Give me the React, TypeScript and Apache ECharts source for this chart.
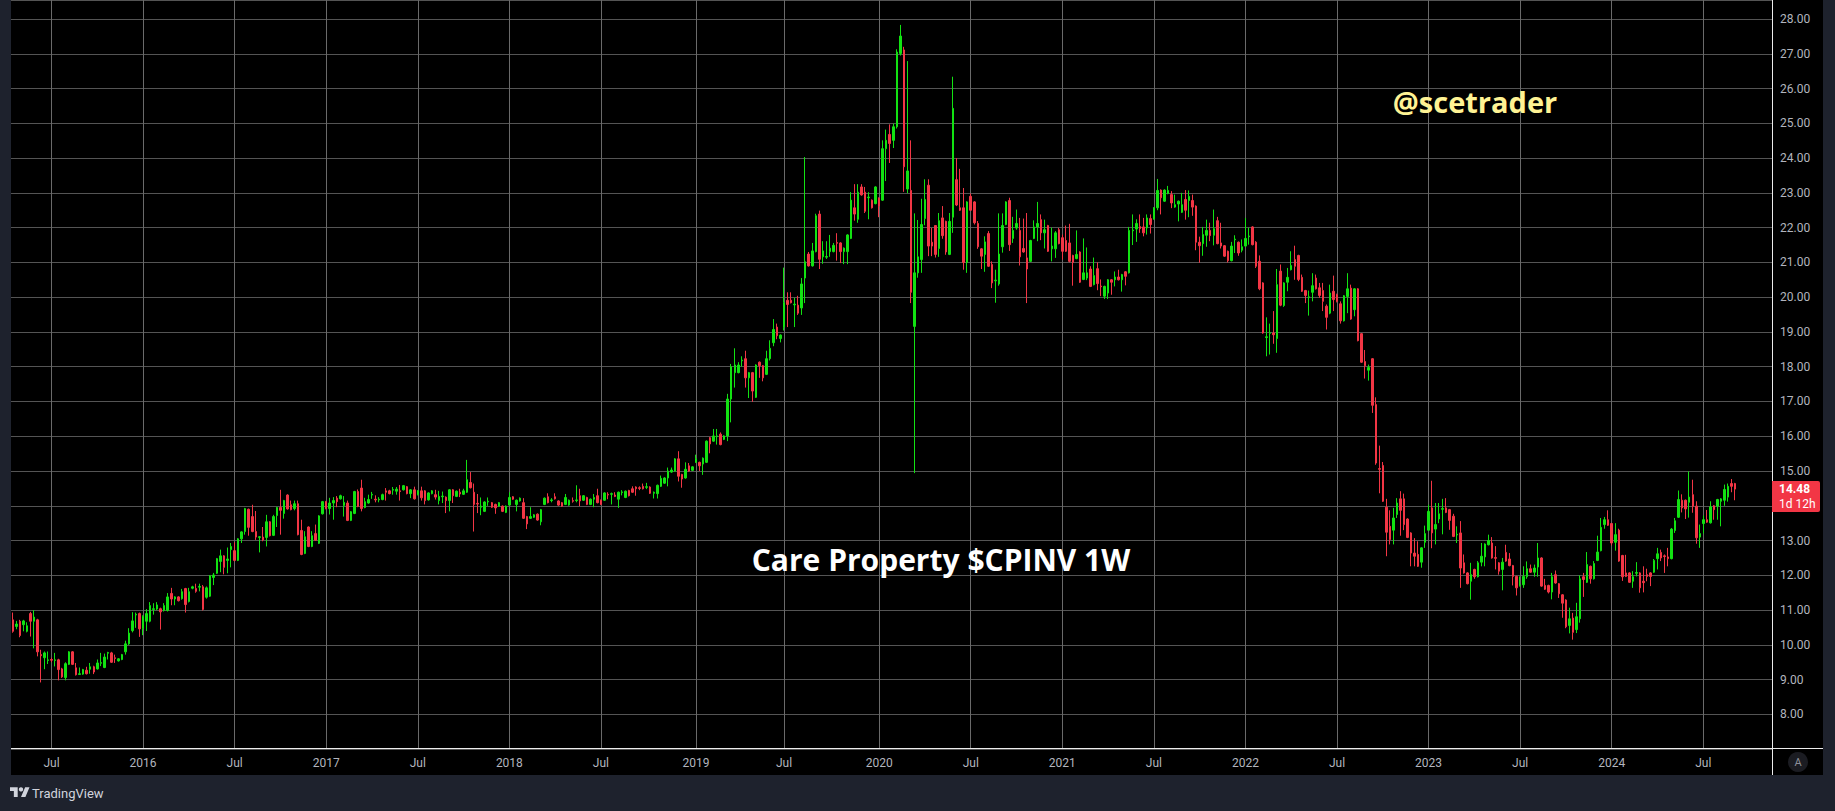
import React, { useEffect, useRef } from 'react';
import * as echarts from 'echarts';

// Weekly candles, each row [open, close, low, high]
const ohlc2015 = [
  [10.72,10.39,10.35,10.93],[10.53,10.6,10.45,10.69],[10.68,10.27,10.22,10.72],[10.58,10.69,10.39,10.72],[10.39,10.55,10.36,10.65],
  [10.9,10.68,10.24,10.95],[10.68,10.8,9.9,11.0],[10.72,9.8,9.67,10.75],[9.72,9.69,8.92,9.86],[9.63,9.77,9.3,9.81],
  [9.55,9.57,9.45,9.81],[9.58,9.56,9.5,9.63],[9.55,9.57,9.38,9.77],[9.57,9.29,8.98,9.6],[9.31,9.08,9.05,9.34],
  [9.06,9.46,8.98,9.5],[9.44,9.8,9.42,9.82],[9.8,9.44,9.42,9.82],[9.34,9.14,9.12,9.48],[9.15,9.17,9.14,9.35],
  [9.16,9.29,9.14,9.31],[9.27,9.17,9.15,9.37],[9.3,9.37,9.17,9.48],[9.37,9.22,9.16,9.4],[9.31,9.48,9.29,9.58],
  [9.47,9.49,9.39,9.77],[9.35,9.65,9.33,9.75],[9.76,9.78,9.58,9.8],[9.77,9.5,9.48,9.8],[9.63,9.61,9.48,9.72],
  [9.54,9.6,9.52,9.62],[9.58,9.72,9.56,9.74],[9.8,10.03,9.72,10.12],[10.03,10.34,10.0,10.48],[10.41,10.69,10.36,10.94],
  [10.86,10.88,10.49,10.93],[10.9,10.46,10.23,10.93],
];
const ohlc2016 = [
  [10.47,10.82,10.28,10.85],[10.68,10.9,10.4,11.03],[10.68,11.13,10.65,11.23],[11.02,11.04,10.87,11.2],[11.03,11.15,11.0,11.23],
  [11.04,10.95,10.44,11.07],[10.99,11.13,10.96,11.2],[10.99,11.38,10.96,11.49],[11.48,11.32,11.14,11.64],[11.32,11.38,11.14,11.4],
  [11.38,11.27,11.25,11.4],[11.33,11.53,11.3,11.61],[11.62,11.16,10.93,11.64],[11.25,11.53,11.22,11.64],[11.63,11.67,11.6,11.7],
  [11.62,11.54,11.5,11.76],[11.66,11.68,11.54,11.76],[11.67,11.02,10.99,11.72],[11.37,11.64,11.33,11.68],[11.4,11.99,11.38,12.01],
  [11.94,12.01,11.72,12.07],[12.06,12.48,12.04,12.5],[12.4,12.56,12.09,12.74],[12.56,12.23,12.03,12.58],[12.43,12.47,12.06,12.8],
  [12.74,12.83,12.23,12.93],[12.71,12.43,12.4,12.95],[12.43,13.05,12.41,13.07],[13.05,13.25,12.93,13.27],[13.26,13.92,13.17,13.94],
  [13.9,13.38,13.14,13.92],[13.69,13.26,13.24,14.03],[13.26,13.1,13.02,13.85],[13.09,13.11,12.66,13.13],[13.1,13.02,12.98,13.39],
  [13.09,13.54,12.83,13.74],[13.54,13.14,13.12,13.56],[13.15,13.69,13.13,13.74],[13.72,13.95,13.39,13.97],[13.95,13.87,13.17,14.46],
  [13.78,14.15,13.63,14.17],[14.31,13.91,13.89,14.33],[14.03,13.89,13.87,14.15],[13.92,14.06,13.87,14.15],[14.06,13.17,13.15,14.15],
  [13.29,12.6,12.58,13.6],[12.63,13.11,12.61,13.27],[13.39,12.83,12.81,13.41],[12.83,13.14,12.81,13.27],[13.2,13.01,12.99,13.46],
  [12.92,13.71,12.9,13.73],[13.77,14.12,13.75,14.14],
];
const ohlc2017 = [
  [14.12,13.92,13.9,14.14],[13.92,14.08,13.75,14.23],[14.08,14.15,13.6,14.25],[14.22,14.12,13.96,14.28],[14.2,14.29,14.18,14.32],
  [14.01,14.1,13.69,14.28],[14.08,13.58,13.56,14.15],[13.58,13.83,13.56,13.85],[13.78,14.41,13.76,14.43],[14.41,13.98,13.96,14.47],
  [14.51,13.92,13.84,14.75],[13.95,14.12,13.93,14.23],[14.08,14.18,14.06,14.32],[14.31,14.33,14.2,14.4],[14.19,14.17,14.1,14.3],
  [14.17,14.19,14.1,14.25],[14.18,14.32,14.16,14.35],[14.43,14.39,14.15,14.51],[14.43,14.35,14.33,14.46],[14.45,14.47,14.32,14.54],
  [14.42,14.48,14.32,14.54],[14.43,14.41,14.15,14.6],[14.46,14.58,14.44,14.6],[14.55,14.35,14.33,14.57],[14.35,14.46,14.22,14.48],
  [14.46,14.2,14.18,14.55],[14.32,14.43,14.3,14.45],[14.43,14.23,14.15,14.55],[14.43,14.15,14.04,14.45],[14.17,14.37,14.15,14.39],
  [14.35,14.43,14.33,14.45],[14.32,14.25,14.18,14.46],[14.15,14.27,14.04,14.43],[14.26,14.28,14.08,14.41],[14.25,14.15,13.79,14.27],
  [14.15,14.46,13.84,14.48],[14.46,14.29,14.08,14.48],[14.27,14.42,14.25,14.44],[14.39,14.34,14.25,14.49],[14.33,14.43,14.31,14.49],
  [14.39,14.75,14.37,15.32],[14.67,14.52,14.5,14.97],[14.39,14.04,13.26,14.64],[14.07,14.05,13.79,14.34],[13.96,13.99,13.73,14.24],
  [13.84,14.11,13.82,14.13],[14.11,14.13,14.0,14.24],[14.09,13.96,13.94,14.11],[14.04,13.94,13.77,14.06],[13.99,14.09,13.97,14.11],
  [13.99,13.84,13.82,14.01],[13.81,13.99,13.79,14.01],
];
const ohlc2018 = [
  [14.02,14.24,14.0,14.39],[14.26,14.19,14.17,14.28],[14.04,14.16,13.84,14.18],[14.14,14.22,14.12,14.24],[14.09,13.64,13.62,14.22],
  [13.69,13.48,13.33,13.71],[13.64,13.69,13.62,13.96],[13.67,13.74,13.65,13.76],[13.76,13.59,13.57,13.78],[13.54,13.89,13.44,13.91],
  [14.04,14.22,14.02,14.24],[14.26,14.09,14.07,14.36],[14.15,14.17,14.1,14.22],[14.26,14.2,14.18,14.36],[14.14,14.02,14.0,14.16],
  [14.09,13.99,13.97,14.11],[14.04,14.24,14.02,14.34],[14.02,14.16,14.0,14.18],[14.15,14.13,14.09,14.24],[14.15,14.17,14.1,14.59],
  [14.29,14.14,13.99,14.49],[14.16,14.29,14.14,14.31],[14.24,14.04,14.02,14.26],[14.04,14.19,14.02,14.21],[14.19,14.24,13.96,14.34],
  [14.29,14.09,14.07,14.49],[14.16,14.04,14.02,14.18],[14.16,14.37,14.14,14.39],[14.33,14.31,14.19,14.39],[14.33,14.35,14.04,14.38],
  [14.31,14.27,14.25,14.39],[14.19,14.39,13.94,14.41],[14.38,14.4,14.3,14.45],[14.24,14.42,14.22,14.44],[14.44,14.29,14.27,14.46],
  [14.49,14.39,14.37,14.56],[14.54,14.49,14.29,14.56],[14.52,14.5,14.45,14.56],[14.56,14.49,14.47,14.64],[14.53,14.55,14.48,14.66],
  [14.54,14.36,14.34,14.56],[14.36,14.39,14.21,14.41],[14.35,14.59,14.21,14.61],[14.56,14.79,14.54,14.87],[14.65,14.8,14.63,14.82],
  [14.8,15.0,14.56,15.1],[14.97,15.03,14.95,15.1],[15.0,15.35,14.98,15.37],[15.35,14.85,14.7,15.57],[14.9,14.77,14.52,14.92],
  [14.8,15.05,14.78,15.25],[15.15,15.0,14.98,15.23],[15.02,15.12,15.0,15.14],
];
const ohlc2019 = [
  [15.25,15.35,15.23,15.47],[15.25,15.15,15.0,15.27],[15.2,15.37,14.89,15.39],[15.25,15.86,15.23,15.88],[15.96,15.78,15.51,15.98],
  [15.86,16.01,15.84,16.21],[15.99,16.01,15.76,16.21],[16.06,15.76,15.74,16.11],[15.91,16.01,15.89,16.03],[16.01,17.07,15.86,17.22],
  [17.07,18.0,16.4,18.08],[17.83,18.05,17.4,18.53],[17.83,18.05,17.81,18.13],[18.17,18.19,18.0,18.3],[18.23,17.68,17.4,18.46],
  [17.68,17.83,17.1,17.85],[17.83,17.3,16.99,17.85],[17.12,18.05,17.1,18.07],[18.13,18.03,17.68,18.15],[18.03,17.68,17.58,18.05],
  [17.78,18.23,17.76,18.46],[18.23,18.53,18.18,18.76],[18.69,19.07,18.59,19.37],[19.14,18.89,18.79,19.24],[18.81,18.91,18.7,18.93],
  [19.14,19.84,19.04,20.85],[19.91,19.79,19.14,20.14],[19.91,19.84,19.82,20.14],[19.78,19.8,19.14,19.98],[19.77,19.54,19.49,20.04],
  [19.69,20.38,19.49,20.55],[20.55,21.02,19.83,24.03],[21.24,20.9,20.88,21.3],[20.9,21.33,20.88,21.56],[21.31,22.34,21.29,22.4],
  [22.39,21.09,20.81,22.49],[21.16,21.33,20.96,21.61],[21.15,21.17,21.1,21.61],[21.31,21.41,21.16,21.79],[21.31,21.49,21.29,21.56],
  [21.57,21.55,21.05,21.84],[21.56,21.31,20.98,21.58],[21.31,21.41,20.95,21.43],[21.31,21.79,20.95,21.81],[21.69,22.79,21.67,23.02],
  [22.57,22.39,22.2,23.25],[22.24,23.02,22.14,23.25],[23.17,22.94,22.92,23.25],[23.02,22.47,22.42,23.17],[22.86,22.88,22.24,23.02],
  [22.79,22.57,22.55,22.81],[22.69,23.17,22.67,23.19],
];
const ohlc2020 = [
  [22.85,22.62,22.3,22.87],[22.79,24.27,22.77,24.51],[24.27,24.51,23.34,24.82],[24.68,24.42,23.86,24.97],[24.51,24.9,24.29,24.99],
  [24.9,27.05,24.85,27.13],[27.01,27.51,26.95,27.83],[27.11,23.75,23.03,27.2],[23.11,23.63,22.99,26.79],[23.07,20.14,19.83,24.51],
  [19.16,20.7,14.94,22.41],[20.7,21.16,20.56,22.22],[21.08,22.09,20.7,22.83],[22.26,22.81,22.07,23.39],[23.22,21.47,21.18,23.39],
  [21.58,21.47,21.18,21.99],[22.06,21.23,21.14,22.06],[21.4,22.2,21.16,22.42],[22.28,21.77,21.68,22.62],[22.18,21.3,21.22,22.2],
  [21.23,22.18,21.21,22.42],[22.3,25.43,21.85,26.34],[23.38,22.65,22.62,24.0],[22.57,22.5,22.48,23.69],[22.57,21.0,20.79,23.14],
  [21.0,22.74,20.7,22.76],[22.9,22.5,22.48,22.98],[22.74,22.14,22.09,22.76],[22.12,21.45,21.39,22.19],[21.39,21.18,20.81,21.41],
  [21.23,21.59,20.73,21.75],[21.83,20.89,20.87,21.9],[20.94,20.41,20.26,21.03],[20.47,20.49,19.84,20.79],[20.38,21.24,20.33,22.41],
  [21.45,22.06,21.28,22.41],[22.09,22.74,22.07,22.76],[22.78,21.51,21.33,22.86],[21.69,21.92,21.56,22.31],[21.99,22.12,21.94,22.52],
  [21.92,21.16,20.91,22.28],[21.4,21.3,21.28,22.26],[21.13,20.81,19.83,22.42],[21.03,21.63,21.01,21.65],[21.69,22.02,21.67,22.21],
  [22.02,22.12,21.61,22.74],[22.23,21.85,21.64,22.38],[21.85,21.94,21.4,22.23],[22.06,21.32,21.3,22.08],[21.39,21.47,21.03,22.0],
  [21.39,21.85,21.13,21.9],[21.94,21.54,21.52,21.99],
];
const ohlc2021 = [
  [21.71,21.32,21.08,21.8],[21.63,21.32,21.3,22.06],[21.56,21.03,21.0,22.11],[21.2,21.0,20.33,21.22],[21.11,21.23,21.09,21.92],
  [21.3,20.43,20.41,21.32],[20.51,20.7,20.49,21.69],[20.55,20.7,20.49,21.43],[20.81,20.31,20.29,20.89],[20.36,20.62,20.34,21.14],
  [20.82,20.39,20.2,21.0],[20.32,20.3,20.03,20.51],[20.03,20.31,19.95,20.33],[20.12,20.5,19.95,20.52],[20.5,20.43,20.07,20.52],
  [20.5,20.58,20.31,20.74],[20.58,20.5,20.48,20.79],[20.5,20.65,20.16,20.67],[20.73,20.6,20.34,20.75],[20.7,21.92,20.68,22.02],
  [21.91,21.93,21.5,22.38],[21.96,22.12,21.59,22.24],[22.03,21.97,21.85,22.38],[22.02,21.85,21.75,22.28],[21.99,22.28,21.8,22.38],
  [22.26,22.09,21.83,22.38],[22.25,22.57,22.23,22.59],[22.57,23.07,22.5,23.4],[23.08,22.86,22.38,23.1],[22.76,23.08,22.74,23.1],
  [22.98,23.07,22.96,23.2],[22.95,22.71,22.56,23.05],[22.59,22.66,22.57,22.95],[22.68,22.76,22.18,22.78],[22.44,22.66,22.42,23.0],
  [22.81,22.5,22.23,23.08],[22.78,22.9,22.3,23.07],[22.78,22.59,22.34,22.95],[22.62,21.58,21.35,22.64],[21.58,21.48,20.99,21.74],
  [21.54,21.8,21.19,22.02],[21.78,21.92,21.45,22.23],[21.92,21.77,21.61,22.14],[21.78,21.97,21.49,22.52],[22.2,21.54,21.52,22.31],
  [21.56,21.47,21.4,22.14],[21.48,21.18,21.16,21.5],[21.32,21.05,21.0,21.34],[21.05,21.47,21.03,21.59],[21.65,21.67,21.27,21.78],
  [21.58,21.27,21.19,21.6],[21.35,21.45,21.29,21.66],
];
const ohlc2022 = [
  [21.47,21.69,21.45,22.28],[21.74,21.76,21.51,22.0],[22.02,21.51,21.49,22.04],[21.58,20.89,20.84,21.61],[21.03,20.24,20.2,21.2],
  [20.41,18.97,18.95,20.43],[18.84,18.86,18.3,19.42],[18.96,18.98,18.35,19.24],[18.97,18.92,18.66,19.6],[18.81,20.36,18.4,20.81],
  [20.75,19.77,19.74,20.94],[19.76,20.41,19.72,20.43],[20.43,20.57,20.17,20.84],[20.79,20.91,20.77,21.32],[21.08,20.89,20.5,21.48],
  [21.2,20.51,20.46,21.22],[20.57,20.17,20.15,20.65],[20.19,20.05,19.83,20.21],[19.99,20.01,19.47,20.19],[20.14,20.33,19.88,20.69],
  [20.55,20.24,20.22,20.65],[20.27,20.05,19.98,20.41],[20.19,19.88,19.6,20.41],[19.74,19.42,19.07,19.79],[19.54,20.12,19.51,20.36],
  [20.17,19.93,19.6,20.62],[20.07,19.88,19.85,20.1],[19.81,19.32,19.24,19.88],[19.32,20.04,19.3,20.06],[20.02,20.24,19.54,20.69],
  [20.26,19.37,19.35,20.36],[19.64,20.24,19.45,20.26],[20.24,18.75,18.73,20.26],[18.95,18.13,18.11,18.97],[18.15,18.03,17.66,18.48],
  [17.9,17.98,17.6,18.06],[18.23,16.89,16.67,18.25],[16.91,15.23,15.18,17.12],[15.07,15.05,14.36,15.73],[15.16,14.13,14.11,15.26],
  [13.96,13.24,12.55,14.2],[13.41,13.03,12.89,13.87],[13.3,13.65,12.89,13.94],[13.75,14.08,13.65,14.22],[14.2,13.87,13.14,14.42],
  [14.2,13.46,13.3,14.35],[13.62,13.09,13.07,13.64],[13.22,12.64,12.26,13.24],[12.64,12.55,12.26,13.07],[12.6,12.26,12.24,12.98],
  [12.38,12.79,12.22,12.81],[12.95,13.2,12.79,13.43],
];
const ohlc2023 = [
  [13.3,13.84,13.28,14.03],[13.94,13.22,12.78,14.72],[13.33,13.46,12.89,14.08],[13.62,13.77,13.5,14.08],[13.9,13.92,13.18,14.2],
  [13.94,13.81,13.79,14.22],[13.89,13.58,13.31,13.91],[13.7,13.12,13.1,13.77],[13.16,13.18,12.93,13.41],[13.22,12.21,11.64,13.56],
  [12.36,12.07,12.05,12.6],[12.07,11.76,11.74,12.09],[11.83,12.02,11.3,12.36],[12.17,11.96,11.9,12.19],[11.96,12.36,11.94,12.41],
  [12.38,12.55,12.26,12.93],[12.53,12.9,12.26,12.92],[12.88,13.0,12.86,13.17],[12.93,12.5,12.48,13.1],[12.51,12.49,12.17,12.84],
  [12.36,12.12,12.02,12.38],[12.17,12.38,11.57,12.5],[12.66,12.41,12.39,12.88],[12.47,12.28,12.26,12.64],[12.28,11.97,11.71,12.3],
  [11.97,11.64,11.42,11.99],[11.7,11.72,11.68,11.97],[11.73,11.97,11.64,12.26],[11.96,12.19,11.9,12.4],[12.19,12.09,12.07,12.31],
  [12.09,12.21,11.96,12.31],[12.24,12.5,11.96,12.93],[12.5,11.69,11.67,12.52],[11.71,11.6,11.58,11.9],[11.71,11.52,11.48,11.73],
  [11.52,11.96,11.31,12.07],[12.02,11.78,11.76,12.14],[11.76,11.47,11.35,11.78],[11.44,11.2,10.78,11.46],[11.29,10.52,10.48,11.31],
  [10.56,10.75,10.33,11.07],[10.77,10.36,10.15,10.92],[10.44,10.81,10.34,11.21],[10.75,11.9,10.64,12.0],[11.96,11.88,11.38,12.07],
  [11.8,12.31,11.78,12.67],[12.26,11.9,11.76,12.28],[11.9,12.34,11.88,12.41],[12.43,12.67,12.41,13.14],[12.71,13.38,12.69,13.65],
  [13.46,13.6,13.34,13.68],[13.6,13.44,13.42,13.87],
];
const ohlc2024 = [
  [13.49,12.93,12.86,13.51],[12.95,13.17,12.71,13.5],[13.3,12.41,12.39,13.34],[12.57,11.96,11.84,12.59],[12.07,11.97,11.95,12.59],
  [12.07,11.8,11.78,12.09],[11.83,11.96,11.64,12.12],[12.06,12.08,11.97,12.38],[12.07,11.64,11.5,12.09],[11.83,11.79,11.51,12.26],
  [12.02,11.97,11.83,12.19],[12.07,11.97,11.69,12.09],[12.09,12.43,12.07,12.47],[12.48,12.62,12.17,12.79],[12.66,12.5,12.41,12.74],
  [12.56,12.54,12.07,12.6],[12.53,12.48,12.26,12.79],[12.48,13.33,12.46,13.36],[13.29,13.57,13.22,13.65],[13.67,14.18,13.65,14.44],
  [14.16,13.94,13.81,14.33],[14.16,13.91,13.62,14.18],[14.1,14.25,13.66,14.99],[14.32,13.99,13.8,14.75],[13.99,13.08,12.91,14.13],
  [13.1,13.2,12.79,13.46],[13.49,13.6,13.2,13.72],[13.6,13.53,13.51,13.88],[13.51,13.97,13.49,14.13],[14.0,13.89,13.6,14.02],
  [13.99,14.18,13.6,14.2],[14.13,14.2,13.41,14.22],[14.16,14.47,14.0,14.61],[14.25,14.56,14.12,14.64],[14.64,14.56,14.39,14.77],
  [14.64,14.48,14.16,14.66],
];

const FIRST_WEEK_UTC = Date.UTC(2015, 3, 20); // Monday of the first weekly bar
const EMPTY_WEEKS_RIGHT = 10;
const LABEL_MONTHS = [0, 6]; // January shows the year, July shows "Jul"
const PRICE_TICK_MIN = 8;
const PRICE_TICK_MAX = 28;
const TITLE = 'Care Property $CPINV 1W';
const WATERMARK = '@scetrader';
const COUNTDOWN = '1d 12h';

const GREEN = '#12e212';
const RED = '#f23645';
const FRAME = '#1e222d';
const AXIS_TEXT = '#b2b5be';

echarts.graphic.registerShape(
  'tvlogo',
  echarts.graphic.extendPath('M14 22H7V11H0V4h14v18zM28 22h-8l7.5-18h8L28 22z', {})
);

export default function App() {
  const ref = useRef<HTMLDivElement>(null);

  useEffect(() => {
    if (!ref.current) return;
    const weekly = [
      ...ohlc2015, ...ohlc2016, ...ohlc2017, ...ohlc2018, ...ohlc2019,
      ...ohlc2020, ...ohlc2021, ...ohlc2022, ...ohlc2023, ...ohlc2024,
    ];
    const dates: string[] = [];
    for (let i = 0; i < weekly.length + EMPTY_WEEKS_RIGHT; i++) {
      dates.push(new Date(FIRST_WEEK_UTC + i * 7 * 86400000).toISOString().slice(0, 10));
    }
    const monthOf = (s: string) => Number(s.slice(5, 7)) - 1;
    const labelIdx = new Set<number>();
    dates.forEach((d, i) => {
      const m = monthOf(d);
      const pm = i > 0 ? monthOf(dates[i - 1]) : -1;
      if (LABEL_MONTHS.includes(m) && m !== pm) labelIdx.add(i);
    });
    const showAt = (i: number) => labelIdx.has(i);
    const lastClose = weekly[weekly.length - 1][1];

    const chart = echarts.init(ref.current, null, { renderer: 'svg' });
    const baseGraphic: any[] = [
      { type: 'line', silent: true, z: 50, shape: { x1: 11, y1: 748.5, x2: 1823, y2: 748.5 }, style: { stroke: '#ececec', lineWidth: 1 } },
      { type: 'line', silent: true, z: 50, shape: { x1: 1772.5, y1: 0, x2: 1772.5, y2: 775 }, style: { stroke: '#ececec', lineWidth: 1 } },
      { type: 'circle', silent: true, z: 50, shape: { cx: 1798, cy: 762, r: 10 }, style: { fill: '#1b1c22' } },
      { type: 'text', silent: true, z: 51, x: 1798, y: 762, style: { text: 'A', fill: '#8c8f99', font: '11px Roboto', textAlign: 'center', textVerticalAlign: 'middle' } },
      { type: 'text', silent: true, z: 40, x: 941, y: 559, style: { text: TITLE, fill: '#ffffff', font: 'bold 30px "Open Sans"', textAlign: 'center', textVerticalAlign: 'middle' } },
      { type: 'text', silent: true, z: 40, x: 1475, y: 101, style: { text: WATERMARK, fill: '#fff394', font: 'bold 29px "Open Sans"', textAlign: 'center', textVerticalAlign: 'middle' } },
      { type: 'tvlogo', silent: true, z: 40, x: 10, y: 785, scaleX: 0.55, scaleY: 0.55, style: { fill: '#d1d4dc' } },
      { type: 'circle', silent: true, z: 40, shape: { cx: 10 + 20 * 0.55, cy: 785 + 8 * 0.55, r: 4 * 0.55 }, style: { fill: '#d1d4dc' } },
      { type: 'text', silent: true, z: 40, x: 32, y: 793, style: { text: 'TradingView', fill: '#d1d4dc', font: '13px Roboto', textAlign: 'left', textVerticalAlign: 'middle' } },
    ];

    chart.setOption({
      animation: false,
      backgroundColor: 'transparent',
      grid: { left: 11, top: 0, width: 1761, height: 749.2, containLabel: false },
      xAxis: {
        type: 'category',
        data: dates,
        boundaryGap: true,
        axisLine: { show: false },
        axisTick: { show: false },
        axisLabel: {
          interval: (i: number) => showAt(i),
          formatter: (v: string) => (monthOf(v) === 0 ? v.slice(0, 4) : 'Jul'),
          color: AXIS_TEXT,
          fontSize: 12,
          fontFamily: 'Roboto',
          margin: 8,
        },
        splitLine: {
          show: true,
          interval: (i: number) => showAt(i),
          alignWithLabel: true,
          lineStyle: { color: '#6a6a6a', width: 1 },
        },
      },
      yAxis: {
        type: 'value',
        position: 'right',
        min: 7,
        max: 28.5465,
        interval: 1,
        axisLine: { show: false },
        axisTick: { show: false },
        axisLabel: {
          // the last-price tag covers the tick just below it, as in the reference
          formatter: (v: number) =>
            Math.abs(v - Math.round(v)) < 1e-6 &&
            v >= PRICE_TICK_MIN &&
            v <= PRICE_TICK_MAX &&
            !(v < lastClose + 0.4 && v > lastClose - 0.9)
              ? v.toFixed(2)
              : '',
          color: AXIS_TEXT,
          fontSize: 12,
          fontFamily: 'Roboto',
          margin: 8,
        },
        splitLine: { show: true, lineStyle: { color: '#545454', width: 1 } },
      },
      series: [
        {
          type: 'candlestick',
          data: weekly,
          barWidth: 2,
          itemStyle: { color: GREEN, color0: RED, borderColor: GREEN, borderColor0: RED, borderWidth: 1 },
        },
      ],
      graphic: baseGraphic,
    });

    const py = chart.convertToPixel({ yAxisIndex: 0 }, lastClose) as number;
    chart.setOption({
      graphic: [
        ...baseGraphic,
        { type: 'rect', silent: true, z: 60, shape: { x: 1772, y: py - 8, width: 48, height: 31, r: [0, 2, 2, 0] }, style: { fill: RED } },
        { type: 'text', silent: true, z: 61, x: 1779, y: py, style: { text: lastClose.toFixed(2), fill: '#ffffff', font: 'bold 12px Roboto', textAlign: 'left', textVerticalAlign: 'middle' } },
        { type: 'text', silent: true, z: 61, x: 1779, y: py + 15, style: { text: COUNTDOWN, fill: '#ffffff', font: '12px Roboto', textAlign: 'left', textVerticalAlign: 'middle' } },
      ],
    });

    return () => chart.dispose();
  }, []);

  return (
    <div style={{ position: 'fixed', left: 0, top: 0, width: 1835, height: 811, background: FRAME, overflow: 'hidden' }}>
      <div style={{ position: 'absolute', left: 11, top: 0, width: 1812, height: 775, background: '#000000' }} />
      <div ref={ref} style={{ position: 'absolute', left: 0, top: 0, width: 1835, height: 811 }} />
    </div>
  );
}
